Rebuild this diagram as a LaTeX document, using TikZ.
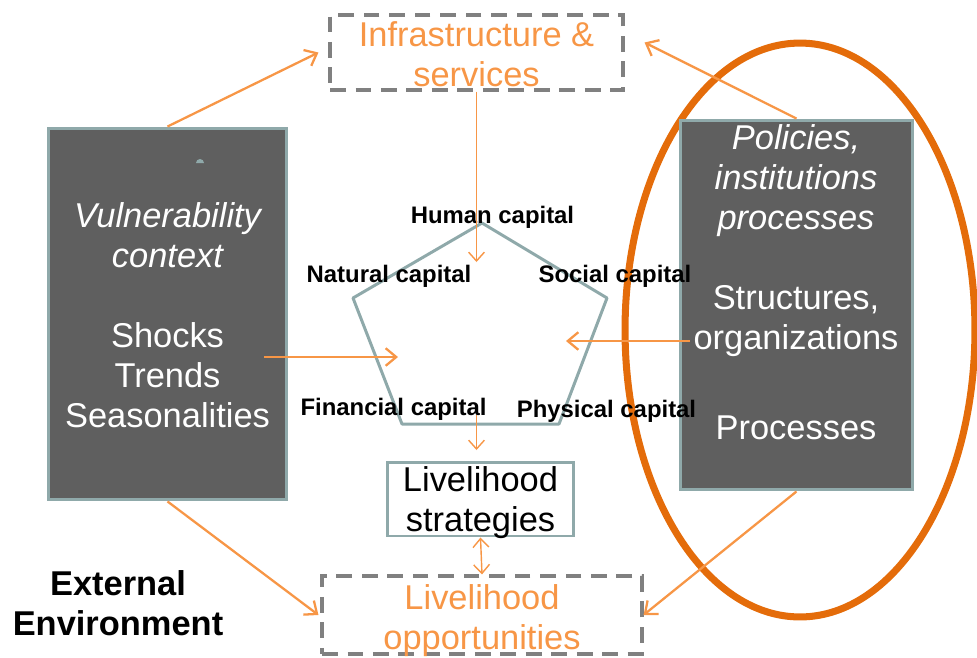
\documentclass[tikz,border=0pt]{standalone}
\usepackage{fontspec}
\setmainfont{Liberation Sans}
\usetikzlibrary{arrows.meta,calc}

\definecolor{flow}{HTML}{F79646}
\definecolor{ring}{HTML}{E46C0A}
\definecolor{frame}{HTML}{8FA9AA}
\definecolor{panel}{HTML}{5F5F5F}
\definecolor{dashgray}{HTML}{808080}

\tikzset{
  big/.style={font=\fontsize{19.6}{22.8}\selectfont, align=center},
  heading/.style={font=\fontsize{19.6}{22.8}\selectfont\bfseries, align=center},
  capital/.style={font=\fontsize{13.6}{16}\selectfont\bfseries, inner sep=0pt},
  panelbox/.style={draw=frame, fill=panel, line width=1.7pt, inner sep=0pt},
  openbox/.style={draw=dashgray, dash pattern=on 9pt off 5.5pt, line width=1.8pt, inner sep=0pt},
  flowline/.style={draw=flow, line width=1.3pt, -{Straight Barb[length=6pt,width=10pt]}},
  thinflow/.style={draw=flow, line width=0.8pt, -{Straight Barb[length=5pt,width=9pt]}},
}

\begin{document}
\begin{tikzpicture}[x=0.02cm, y=-0.02cm]
  \useasboundingbox (0,0) rectangle (977,657);

  % ring round the policies panel
  \draw[ring, line width=4pt] (800,330) ellipse [x radius=3.5cm, y radius=5.74cm];

  % the two dark panels
  \node[panelbox, minimum width=4.78cm, minimum height=7.44cm] (vuln) at (167.5,314) {};
  \node[big, text=white] (vulntext) at (167.5,315)
    {{\itshape Vulnerability}\\{\itshape context}\\[22.8pt]Shocks\\Trends\\Seasonalities};
  \fill[frame] (196,163) arc[start angle=180, end angle=0, radius=0.08cm] -- cycle;

  \node[panelbox, minimum width=4.66cm, minimum height=7.40cm] (policies) at (796.5,305) {};
  \node[big, text=white] (policiestext) at (796,282)
    {{\itshape Policies,}\\{\itshape institutions}\\{\itshape processes}\\[22.8pt]Structures,\\organizations\\[27.9pt]Processes};

  % boxes in the middle column
  \node[openbox, minimum width=5.86cm, minimum height=1.5cm] (infra) at (476.5,52.5) {};
  \node[big, text=flow] (infratext) at (476.5,54.5) {Infrastructure \&\\services};
  \node[draw=frame, line width=1.7pt, inner sep=0pt,
    minimum width=3.74cm, minimum height=1.48cm] (strat) at (480.5,499) {};
  \node[big] (strattext) at (480.5,502.5) {Livelihood\\strategies};
  \node[openbox, minimum width=6.4cm, minimum height=1.56cm] (opps) at (482,615) {};
  \node[big, text=flow] (oppstext) at (482,620.5) {Livelihood\\opportunities};

  % asset pentagon
  \coordinate (ph) at (482,223);
  \coordinate (ps) at (607,298);
  \coordinate (pp) at (559,424);
  \coordinate (pf) at (402,424);
  \coordinate (pn) at (353,298);
  \draw[frame, line width=1.7pt, line join=round] (ph) -- (ps) -- (pp) -- (pf) -- (pn) -- cycle;

  \node[capital] (human) at (492.5,217) {Human capital};
  \node[capital] (natural) at (389,276) {Natural capital};
  \node[capital] (social) at (615,276) {Social capital};
  \node[capital] (financial) at (393.5,409) {Financial capital};
  \node[capital] (physical) at (606.5,411) {Physical capital};

  \node[heading] (external) at (118,603) {External\\Environment};

  % arrows
  \coordinate (topin) at (476.5,262);
  \coordinate (vulnout) at (264,357);
  \coordinate (leftin) at (398,357);
  \coordinate (polout) at (690,341);
  \coordinate (rightin) at (566,341);
  \coordinate (assetsout) at (476.5,415);
  \coordinate (stratin) at (476.5,450);

  \draw[flowline] (vuln.north) -- ($(infra.west)+(-10,0)$);
  \draw[flowline] (policies.north) -- ($(infra.east)+(20,-10)$);
  \draw[flowline] (vuln.south) -- ($(opps.west)+(-2,0)$);
  \draw[flowline] (policies.south) -- (opps.east);
  \draw[flowline] (vulnout) -- (leftin);
  \draw[flowline] (polout) -- (rightin);
  \draw[thinflow] (infra.south) -- (topin);
  \draw[thinflow] (assetsout) -- (stratin);
  \draw[thinflow, {Straight Barb[length=5pt,width=9pt]}-{Straight Barb[length=5pt,width=9pt]}] (strat.south) -- (opps.north);
\end{tikzpicture}
\end{document}
